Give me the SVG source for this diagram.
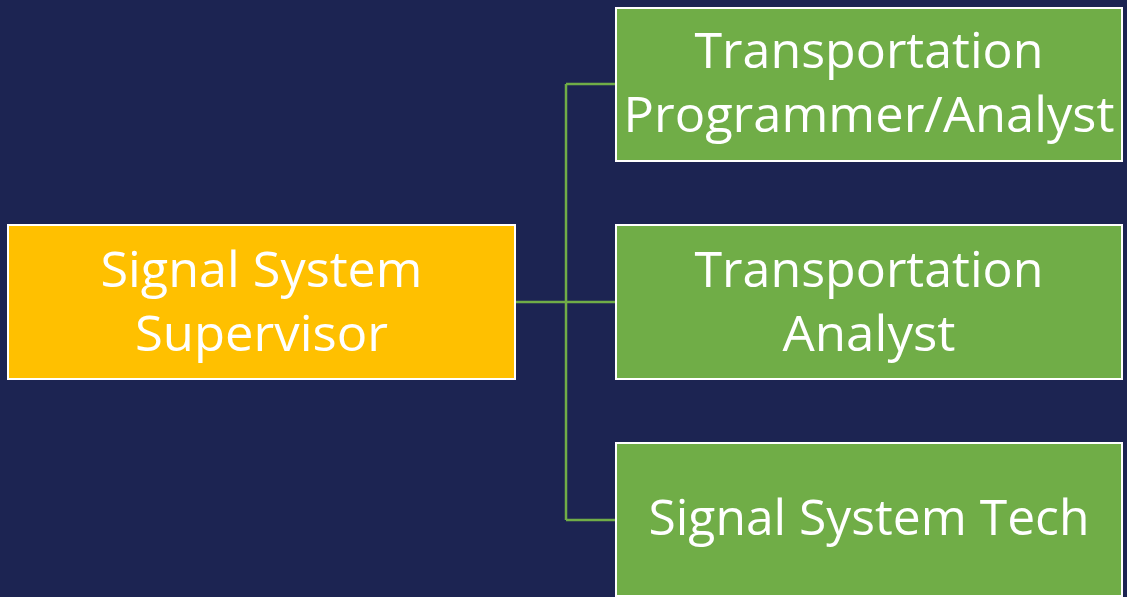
<svg xmlns="http://www.w3.org/2000/svg" width="1127" height="597" viewBox="0 0 1127 597">
<style>
.bg{fill:#1C2452}
.box{stroke:#FFFFFF;stroke-width:2}
.sup{fill:#FFC000}
.sub{fill:#70AD47}
.lbl{font-family:"Open Sans","Noto Sans",sans-serif;font-size:49px;fill:#FFFFFF;text-anchor:middle}
.conn{fill:none;stroke:#70AD47;stroke-width:2.5}
</style>
<rect class="bg" x="0" y="0" width="1127" height="597"/>
<g id="connectors">
<path class="conn" d="M515 302 H616 M566 84 V520 M566 84 H616 M566 520 H616"/>
</g>
<g id="node-supervisor">
<rect class="box sup" x="8" y="225" width="507" height="154"/>
<text class="lbl" x="261.5" y="287" textLength="322" lengthAdjust="spacingAndGlyphs">Signal System</text>
<text class="lbl" x="261.5" y="351" textLength="253" lengthAdjust="spacingAndGlyphs">Supervisor</text>
</g>
<g id="node-programmer-analyst">
<rect class="box sub" x="616" y="8" width="506" height="153"/>
<text class="lbl" x="869" y="68" textLength="349" lengthAdjust="spacingAndGlyphs">Transportation</text>
<text class="lbl" x="869" y="132" textLength="491" lengthAdjust="spacingAndGlyphs">Programmer/Analyst</text>
</g>
<g id="node-analyst">
<rect class="box sub" x="616" y="225" width="506" height="154"/>
<text class="lbl" x="869" y="287" textLength="349" lengthAdjust="spacingAndGlyphs">Transportation</text>
<text class="lbl" x="869" y="351" textLength="173" lengthAdjust="spacingAndGlyphs">Analyst</text>
</g>
<g id="node-tech">
<rect class="box sub" x="616" y="443" width="506" height="153"/>
<text class="lbl" x="869" y="535" textLength="441" lengthAdjust="spacingAndGlyphs">Signal System Tech</text>
</g>
</svg>
